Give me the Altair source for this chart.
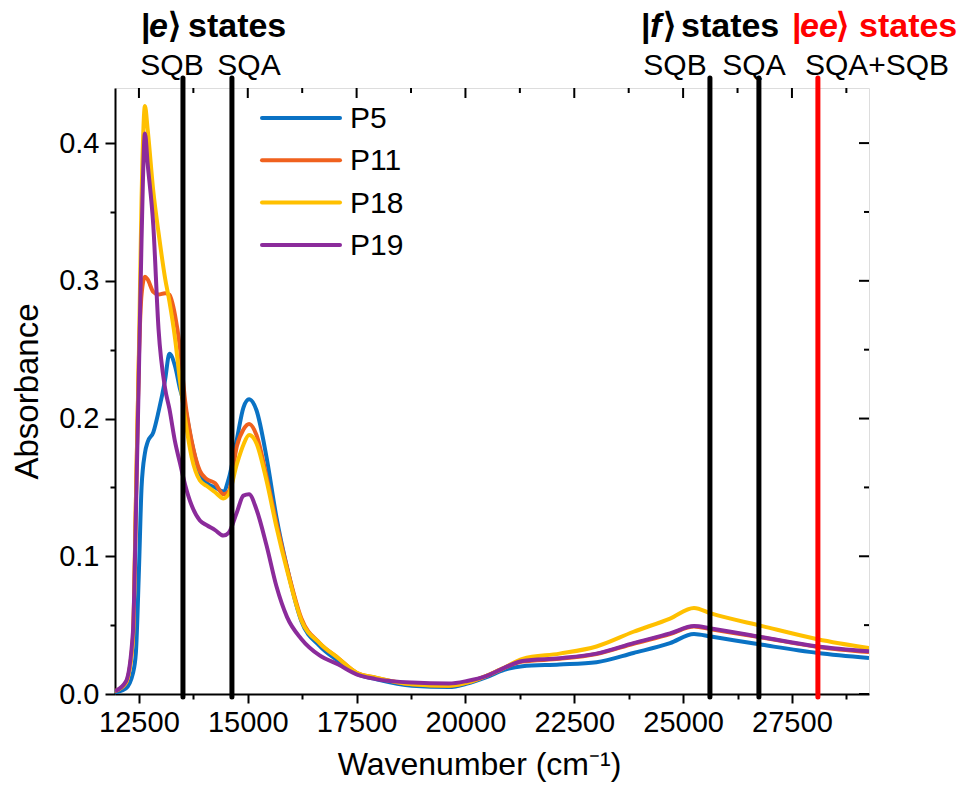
import altair as alt
import pandas as pd

# ---------------- data ----------------
wavenumber = [11950, 12200, 12362, 12430, 12500, 12560, 12638, 12700, 12830, 12950,
              13100, 13200, 13330, 13440, 13560, 13710, 13900, 14060, 14250, 14440,
              14560, 14750, 14900, 15030, 15200, 15430, 15660, 15900, 16230, 16650,
              17080, 17500, 17920, 18770, 19620, 20040, 20470, 20890, 21310, 22160,
              23010, 23860, 24700, 25250, 25640, 26820, 28090, 29270]

p5 = [0.001, 0.004, 0.015, 0.030, 0.090, 0.150, 0.175, 0.183, 0.190, 0.205,
      0.228, 0.247, 0.238, 0.222, 0.208, 0.183, 0.160, 0.153, 0.150, 0.147,
      0.156, 0.185, 0.208, 0.214, 0.206, 0.172, 0.128, 0.092, 0.053, 0.035,
      0.024, 0.0145, 0.011, 0.006, 0.005, 0.0075, 0.012, 0.0175, 0.0202, 0.0214,
      0.0231, 0.0298, 0.0369, 0.0436, 0.0417, 0.0357, 0.0298, 0.0262]

p11 = [0.002, 0.008, 0.040, 0.140, 0.245, 0.290, 0.303, 0.301, 0.292, 0.290,
       0.291, 0.290, 0.275, 0.252, 0.213, 0.184, 0.162, 0.156, 0.153, 0.145,
       0.147, 0.180, 0.192, 0.196, 0.188, 0.158, 0.124, 0.092, 0.055, 0.037,
       0.026, 0.0155, 0.012, 0.007, 0.006, 0.0083, 0.013, 0.019, 0.0235, 0.0255,
       0.029, 0.0365, 0.0435, 0.049, 0.047, 0.041, 0.0342, 0.0305]

p18 = [0.002, 0.008, 0.040, 0.140, 0.250, 0.360, 0.427, 0.410, 0.365, 0.335,
       0.302, 0.285, 0.258, 0.228, 0.200, 0.172, 0.155, 0.151, 0.1465, 0.142,
       0.145, 0.167, 0.181, 0.188, 0.182, 0.155, 0.121, 0.090, 0.0536, 0.037,
       0.026, 0.0155, 0.012, 0.0071, 0.006, 0.0083, 0.013, 0.019, 0.0255, 0.0293,
       0.0345, 0.0452, 0.0548, 0.0625, 0.0585, 0.0493, 0.0398, 0.0333]

p19 = [0.002, 0.009, 0.045, 0.130, 0.235, 0.330, 0.407, 0.385, 0.340, 0.265,
       0.222, 0.207, 0.183, 0.168, 0.152, 0.137, 0.126, 0.1225, 0.119, 0.115,
       0.117, 0.132, 0.144, 0.145, 0.134, 0.108, 0.078, 0.056, 0.040, 0.028,
       0.0214, 0.0143, 0.011, 0.0083, 0.0076, 0.0095, 0.013, 0.019, 0.024, 0.026,
       0.0293, 0.0369, 0.044, 0.0493, 0.0476, 0.0412, 0.0345, 0.031]

series_names = ["P5", "P11", "P18", "P19"]
series_colors = ["#0A72C4", "#F0611E", "#FFC000", "#8B2B9B"]

state_lines = [13511, 14636, 25616, 26741, 28096]
state_line_colors = ["#000000", "#000000", "#000000", "#000000", "#FF0000"]

x_major = [12500, 15000, 17500, 20000, 22500, 25000, 27500]
x_minor = [13750, 16250, 18750, 21250, 23750, 26250, 28750]
y_major = [0.0, 0.1, 0.2, 0.3, 0.4]
y_minor = [0.05, 0.15, 0.25, 0.35]

x_domain = [11950, 29270]
y_domain = [0.0, 0.44]

# ---------------- layout ----------------
W, H = 754, 606
FONT = "Liberation Sans"

rows = []
for name, vals in zip(series_names, [p5, p11, p18, p19]):
    for w, v in zip(wavenumber, vals):
        rows.append({"wn": w, "abs": v, "series": name})
df = pd.DataFrame(rows)

xscale = alt.Scale(domain=x_domain, nice=False, zero=False)
yscale = alt.Scale(domain=y_domain, nice=False, zero=False)
cscale = alt.Scale(domain=series_names, range=series_colors)

x_all = sorted(x_major + x_minor)
y_all = sorted(y_major + y_minor)

x_axis = alt.Axis(
    values=x_all, format="d",
    labelExpr="datum.value % 2500 === 0 ? datum.label : ''",
    tickSize={"condition": {"test": "datum.value % 2500 === 0", "value": 9}, "value": 5},
    tickWidth=2, tickColor="black", domainColor="black", domainWidth=2,
    labelFont=FONT, labelFontSize=29, labelColor="black", labelPadding=5,
    title="Wavenumber (cm⁻¹)", titleFont=FONT, titleFontSize=32, titleFontWeight="normal",
    titleColor="black", titlePadding=12, titleX=364, titleAlign="center",
    grid=False, labelFlush=False, labelOverlap=False,
)
y_axis = alt.Axis(
    values=y_all, format=".1f",
    labelExpr="abs(datum.value*10 - round(datum.value*10)) < 1e-6 ? datum.label : ''",
    tickSize={"condition": {"test": "abs(datum.value*10 - round(datum.value*10)) < 1e-6", "value": 10},
              "value": 5},
    tickWidth=2, tickColor="black", domainColor="black", domainWidth=2,
    labelFont=FONT, labelFontSize=29, labelColor="black", labelPadding=6,
    title="Absorbance", titleFont=FONT, titleFontSize=33, titleFontWeight="normal",
    titleColor="black", titlePadding=14, grid=False, labelFlush=False, labelOverlap=False,
)

lines = alt.Chart(df).mark_line(strokeWidth=4, interpolate="monotone", clip=True).encode(
    x=alt.X("wn:Q", scale=xscale, axis=x_axis),
    y=alt.Y("abs:Q", scale=yscale, axis=y_axis),
    color=alt.Color("series:N", scale=cscale, sort=series_names, legend=None),
    order=alt.Order("wn:Q"),
)

# state marker lines
df_states = pd.DataFrame({"wn": state_lines, "col": state_line_colors})
states = alt.Chart(df_states).mark_rule(strokeWidth=5, strokeCap="round").encode(
    x=alt.X("wn:Q"),
    y=alt.value(-10),
    y2=alt.value(H + 3),
    color=alt.Color("col:N", scale=None),
)

# mirrored inward ticks on top and right
df_xmaj = pd.DataFrame({"wn": x_major})
df_xmin = pd.DataFrame({"wn": x_minor})
df_ymaj = pd.DataFrame({"abs": y_major})
df_ymin = pd.DataFrame({"abs": y_minor})

top_major = alt.Chart(df_xmaj).mark_rule(strokeWidth=2, color="black").encode(
    x="wn:Q", y=alt.value(0), y2=alt.value(10))
top_minor = alt.Chart(df_xmin).mark_rule(strokeWidth=2, color="black").encode(
    x="wn:Q", y=alt.value(0), y2=alt.value(5))
right_major = alt.Chart(df_ymaj).mark_rule(strokeWidth=2, color="black").encode(
    y="abs:Q", x=alt.value(W - 10), x2=alt.value(W))
right_minor = alt.Chart(df_ymin).mark_rule(strokeWidth=2, color="black").encode(
    y="abs:Q", x=alt.value(W - 5), x2=alt.value(W))

# legend drawn by hand (compact Origin-style)
legend_layers = []
for i, name in enumerate(series_names):
    d = pd.DataFrame({"series": [name]})
    ly = 30 + 42.3 * i
    legend_layers.append(
        alt.Chart(d).mark_rule(strokeWidth=4, strokeCap="round").encode(
            x=alt.value(147), x2=alt.value(225), y=alt.value(ly),
            color=alt.Color("series:N", scale=cscale, legend=None),
        )
    )
    legend_layers.append(
        alt.Chart(d).mark_text(font=FONT, fontSize=30, align="left", baseline="middle",
                               color="black").encode(
            x=alt.value(235), y=alt.value(ly + 1), text="series:N",
        )
    )

# annotations (pixel positions relative to plot origin)
one = pd.DataFrame({"k": [0]})


def label(text, x, y, size=30, weight="normal", style="normal", color="black", align="center"):
    return alt.Chart(one).mark_text(
        text=text, font=FONT, fontSize=size, fontWeight=weight, fontStyle=style,
        color=color, align=align, baseline="alphabetic",
    ).encode(x=alt.value(x), y=alt.value(y))


HB = -51
HS = 34
RED = "#FF0000"
ann = [
    label("|", 26, HB, HS, "bold", align="left"),
    label("e", 34, HB, HS, "bold", "italic", align="left"),
    label("⟩", 53, HB, HS, "bold", align="left"),
    label("states", 73, HB, HS, "bold", align="left"),
    label("SQB", 57, -13),
    label("SQA", 134, -13),
    label("|", 526, HB, HS, "bold", align="left"),
    label("f", 535, HB, HS, "bold", "italic", align="left"),
    label("⟩", 548, HB, HS, "bold", align="left"),
    label("states", 566, HB, HS, "bold", align="left"),
    label("|", 677, HB, HS, "bold", color=RED, align="left"),
    label("ee", 685, HB, HS, "bold", "italic", color=RED, align="left"),
    label("⟩", 721, HB, HS, "bold", color=RED, align="left"),
    label("states", 744, HB, HS, "bold", color=RED, align="left"),
    label("SQB", 560, -13),
    label("SQA", 639, -13),
    label("SQA+SQB", 762, -13),
]

chart = alt.layer(
    lines, states, top_major, top_minor, right_major, right_minor, *legend_layers, *ann
).properties(
    width=W, height=H,
    autosize=alt.AutoSizeParams(type="none"),
    padding={"left": 115, "top": 88, "right": 89, "bottom": 101},
).configure_view(
    stroke="black", strokeWidth=2,
).configure(background="white")

chart.save("out.html", embed_options={"renderer": "svg", "actions": False})
